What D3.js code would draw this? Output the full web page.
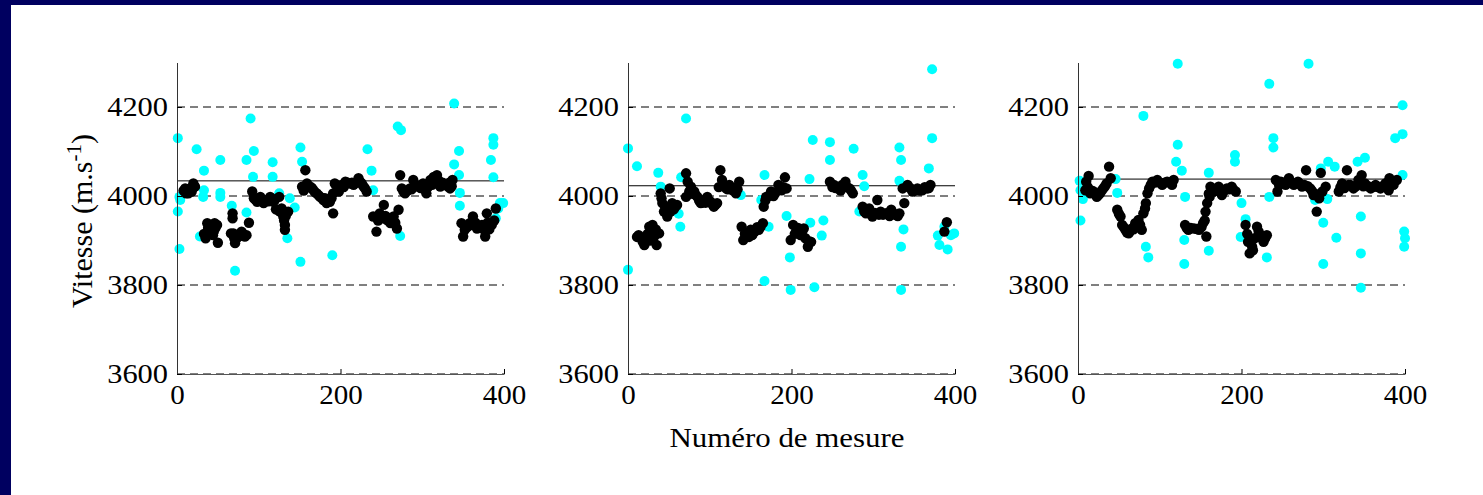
<!DOCTYPE html>
<html><head><meta charset="utf-8">
<script src="https://cdn.jsdelivr.net/npm/d3@7"></script>
<style>
html,body{margin:0;padding:0;background:#fff;}
svg{display:block;}
svg text{font-family:'Liberation Serif','Times New Roman',Times,serif !important;}
</style></head>
<body>
<svg id="c" width="1483" height="495"></svg>
<script>
const xTicks = [0, 200, 400];
const yTicks = [3600, 3800, 4000, 4200];
const gridLevels = [3600, 3800, 4000, 4200];
const means = [4034, 4023, 4038];
const xLabel = "Numéro de mesure";

const cyan1 = [[1,4130],[3,3998],[4,3991],[1,3965],[3,3881],[24,4105],[33,4057],[33,4013],[32,3998],[28,3909],
[53,4081],[53,4007],[53,3998],[67,3978],[85,4081],[90,4174],[94,4101],[93,4043],[85,3963],[71,3832],
[117,4076],[117,4043],[125,4006],[138,3995],[144,3974],[135,3905],[151,4109],[153,4077],[151,3852],[190,3867],
[233,4105],[238,4057],[240,4013],[270,4156],[274,4148],[273,3910],[339,4208],[345,4101],[339,4071],[345,4047],
[346,4007],[346,3978],[387,4130],[387,4115],[384,4081],[387,4042],[390,3950],[395,3984],[399,3984],[393,3972]];
const black1 = [[10,4017],[14,4006],[20,4028],[16,4017],[22,4021],[11,4006],[8,4012],[18,4010],[13,4015],[19,4018],
[37,3939],[35,3905],[41,3927],[45,3920],[49,3935],[50,3895],[39,3916],[46,3939],[43,3930],[33,3915],[38,3928],[44,3912],[47,3928],
[68,3961],[68,3950],[69,3916],[71,3894],[75,3909],[79,3920],[83,3909],[88,3940],[66,3916],[73,3905],[81,3915],[70,3905],[77,3915],[85,3912],
[92,4010],[94,3995],[98,3987],[102,3998],[106,3984],[110,3991],[114,3998],[118,3987],[125,3998],[100,3990],[108,3988],[96,3992],[104,3990],[112,3988],[116,3994],[120,3992],
[121,3970],[126,3965],[130,3954],[132,3935],[132,3924],[136,3965],[128,3972],[131,3945],[124,3968],[133,3955],
[153,4021],[157,4058],[159,4028],[163,4021],[167,4013],[171,4006],[175,3998],[179,3991],[183,3984],[187,3987],[191,3961],[193,4028],[198,4010],[191,4006],[155,4012],[165,4018],[173,4002],[181,3995],[161,4020],[169,4008],[177,3996],[185,3990],[189,3995],[196,4020],
[202,4025],[206,4032],[212,4028],[216,4025],[222,4040],[226,4028],[230,4017],[232,4010],[209,4030],[219,4030],[204,4020],[214,4030],[224,4032],[228,4022],
[240,3954],[244,3920],[248,3961],[253,3980],[257,3946],[261,3939],[265,3954],[269,3927],[271,3969],[251,3950],[263,3945],[246,3945],[255,3955],[259,3950],[267,3940],
[273,4047],[275,4017],[279,4006],[285,4017],[289,4036],[295,4021],[301,4028],[305,4006],[310,4036],[314,4043],[318,4047],[322,4021],[328,4025],[334,4017],[337,4036],[282,4012],[292,4025],[298,4018],[307,4020],[316,4030],[325,4030],[331,4022],[277,4010],[287,4015],[303,4020],[312,4025],[320,4035],[333,4030],[336,4022],
[350,3909],[348,3939],[352,3924],[358,3939],[362,3954],[367,3927],[373,3935],[377,3909],[379,3961],[385,3935],[390,3972],[355,3930],[370,3930],[382,3925],[360,3935],[365,3940],[375,3925],[380,3940],[388,3945]];

const cyan2 = [[0,4107],[0,3834],[11,4067],[37,4052],[40,4021],[65,4042],[62,3960],[64,3931],[71,4174],[138,4002],
[167,4047],[163,3991],[172,3931],[167,3809],[194,3955],[198,3862],[199,3789],[222,4038],[226,4126],[223,3940],
[228,3795],[237,3911],[239,3945],[247,4121],[247,4081],[276,4106],[287,4047],[289,4022],[283,3965],[332,4109],
[334,4081],[332,4034],[337,3925],[334,3886],[334,3789],[372,4285],[372,4130],[368,4062],[379,3911],[381,3890],
[391,3880],[395,3912],[399,3916],[387,3931]];
const black2 = [[13,3912],[18,3897],[22,3909],[26,3931],[28,3920],[32,3909],[35,3890],[38,3916],[20,3890],[30,3935],[16,3905],[24,3915],[11,3908],[34,3925],[27,3900],
[40,4006],[42,3984],[44,3965],[48,3954],[51,4017],[54,3984],[58,3976],[60,3980],[46,3975],[52,3965],[41,3995],[56,3970],
[71,4051],[73,4032],[71,3998],[77,4021],[81,4010],[85,3998],[89,3984],[93,3991],[97,3998],[101,3987],[105,3976],[109,3984],[75,4010],[83,4002],[95,3985],[79,4005],[87,3990],[91,3985],[99,3990],[103,3982],[107,3980],
[113,4058],[115,4036],[120,4017],[124,4025],[128,4013],[132,4006],[136,4032],[118,4025],[130,4018],[111,4020],[122,4015],[126,4018],[134,4015],
[139,3931],[141,3901],[146,3916],[150,3924],[155,3920],[160,3924],[165,3939],[143,3915],[152,3912],[158,3930],[148,3908],[162,3930],
[166,3976],[169,3998],[175,4010],[180,4006],[184,4025],[188,4013],[192,4042],[194,4017],[172,4000],[186,4015],[168,3990],[178,4000],[190,4020],
[199,3901],[202,3935],[206,3920],[211,3912],[215,3927],[220,3886],[224,3897],[208,3928],[217,3905],[213,3920],[204,3915],[222,3898],
[247,4032],[252,4025],[257,4017],[262,4025],[266,4032],[271,4017],[275,4006],[250,4020],[260,4012],[268,4020],[254,4018],[264,4020],[273,4012],
[287,3976],[291,3961],[295,3972],[299,3954],[305,3991],[309,3965],[315,3961],[322,3969],[328,3957],[332,3961],[302,3962],[312,3958],[318,3962],[325,3960],[289,3965],[297,3960],[307,3958],[320,3955],[330,3955],
[338,3984],[336,4017],[342,4025],[348,4010],[354,4017],[360,4013],[366,4017],[370,4025],[345,4018],[357,4012],[363,4020],[351,4012],[368,4018],
[387,3920],[390,3941]];

const cyan3 = [[2,4034],[3,4013],[6,3993],[3,3945],[46,4038],[48,4007],[80,4180],[83,3886],[86,3862],[122,4297],
[122,4115],[120,4077],[127,4057],[131,3998],[130,3901],[130,3847],[160,4052],[160,3877],[192,4092],[192,4077],
[200,3984],[205,3948],[199,3908],[231,3862],[234,4252],[239,4130],[239,4109],[234,3998],[282,4297],[297,4062],
[306,4077],[314,4066],[305,3993],[290,3991],[300,3940],[300,3847],[316,3906],[342,4077],[351,4086],[346,3954],
[346,3871],[346,3794],[388,4130],[397,4139],[397,4204],[397,4047],[399,3920],[400,3905],[399,3886]];
const black3 = [[10,4032],[13,4045],[9,4013],[15,4006],[19,4010],[23,3998],[27,4006],[31,4017],[35,4028],[38,4066],[40,4040],[12,4020],[25,4002],[17,4012],[21,4005],[29,4012],[33,4022],
[48,3969],[52,3954],[54,3935],[58,3924],[62,3916],[66,3927],[70,3939],[74,3946],[78,3924],[80,3961],[83,3984],[85,4006],[87,4017],[56,3930],[64,3922],[72,3930],[76,3935],[50,3960],[60,3918],[68,3925],[82,3972],
[91,4032],[97,4036],[103,4025],[109,4032],[115,4025],[117,4036],[94,4030],[100,4030],[106,4030],[112,4030],[89,4025],
[131,3935],[135,3924],[142,3927],[148,3924],[153,3939],[157,3909],[156,3965],[138,3928],[145,3926],[151,3930],[133,3928],[155,3945],
[158,3984],[161,3998],[162,4021],[166,4010],[172,4021],[176,4002],[182,4017],[188,4021],[193,4010],[169,4015],[179,4012],[185,4015],[160,4005],[190,4015],
[205,3935],[208,3897],[210,3871],[213,3886],[219,3931],[223,3912],[227,3897],[231,3912],[216,3905],[212,3900],[221,3920],[225,3905],[207,3915],[214,3878],[229,3905],
[242,4036],[244,4010],[248,4032],[254,4025],[258,4040],[264,4025],[269,4032],[274,4021],[279,4058],[284,4017],[288,4002],[292,3965],[297,4052],[295,3995],[303,4021],[251,4030],[261,4030],[271,4028],[246,4025],[256,4030],[266,4028],[277,4025],[281,4022],[286,4012],[290,4005],[299,4010],
[319,4010],[323,4028],[329,4058],[333,4025],[337,4017],[343,4036],[347,4047],[351,4028],[358,4017],[364,4025],[370,4017],[376,4028],[381,4040],[386,4025],[390,4036],[380,4013],[326,4018],[340,4022],[355,4022],[367,4020],[373,4022],[321,4020],[331,4025],[345,4030],[349,4022],[361,4020],[384,4030]];

const panels = [
  {cyan: cyan1, black: black1, mean: means[0], left: 177},
  {cyan: cyan2, black: black2, mean: means[1], left: 628},
  {cyan: cyan3, black: black3, mean: means[2], left: 1078}
];

const SERIF = "'Liberation Serif', 'Times New Roman', Times, serif";
const svg = d3.select("#c");
svg.append("rect").attr("x",0).attr("y",0).attr("width",1483).attr("height",495).attr("fill","#000060");
svg.append("rect").attr("x",11).attr("y",5).attr("width",1483-11).attr("height",495-5).attr("fill","#fff");

const W = 327, plotTop = 62.5, plotBottom = 374;
const FS = 28;
const y = d3.scaleLinear().domain([3600, 4300]).range([plotBottom, plotTop]);
const fmt = d3.format("d");

panels.forEach((p, i) => {
  const x = d3.scaleLinear().domain([0, 400]).range([p.left, p.left + W]);
  const g = svg.append("g");
  g.selectAll("line.grid").data(gridLevels).enter().append("line")
    .attr("x1", x(0)).attr("x2", x(400)).attr("y1", d => y(d)).attr("y2", d => y(d))
    .attr("stroke", "#000").attr("stroke-width", 1).attr("stroke-dasharray", "8,5");
  g.append("line").attr("x1", x(0)).attr("x2", x(400)).attr("y1", y(p.mean)).attr("y2", y(p.mean))
    .attr("stroke", "#000").attr("stroke-width", 1);
  g.selectAll("circle.c").data(p.cyan).enter().append("circle")
    .attr("cx", d => x(d[0])).attr("cy", d => y(d[1])).attr("r", 5).attr("fill", "#00ffff");
  g.selectAll("circle.b").data(p.black).enter().append("circle")
    .attr("cx", d => x(d[0])).attr("cy", d => y(d[1])).attr("r", 5.2).attr("fill", "#000");
  const ax = d3.axisBottom(x).tickValues(xTicks).tickFormat(fmt).tickSize(-5).tickSizeOuter(0).tickPadding(10);
  const gx = svg.append("g").attr("transform", `translate(0,${plotBottom})`).call(ax)
    .attr("font-family", SERIF).attr("font-size", FS);
  gx.select(".domain").attr("stroke", "#555");
  gx.selectAll("text").attr("fill", "#000")
    .attr("textLength", d => fmt(d).length * 14.5).attr("lengthAdjust", "spacingAndGlyphs");
  const ay = d3.axisLeft(y).tickValues(yTicks).tickFormat(fmt).tickSize(-5).tickSizeOuter(0).tickPadding(9);
  const gy = svg.append("g").attr("transform", `translate(${p.left},0)`).call(ay)
    .attr("font-family", SERIF).attr("font-size", FS);
  gy.select(".domain").attr("stroke", "#333");
  gy.selectAll("text").attr("fill", "#000")
    .attr("textLength", d => fmt(d).length * 15.2).attr("lengthAdjust", "spacingAndGlyphs");
});

const yl = svg.append("text").attr("transform", "translate(92,221) rotate(-90)")
  .attr("text-anchor", "middle").attr("font-family", SERIF).attr("font-size", 30).attr("fill", "#000");
yl.append("tspan").text("Vitesse (m.s");
yl.append("tspan").attr("font-size", 21).attr("dy", -11).text("-1");
yl.append("tspan").attr("dy", 11).text(")");

svg.append("text").attr("x", 787).attr("y", 447).attr("text-anchor", "middle")
  .attr("font-family", SERIF).attr("font-size", FS).attr("fill", "#000")
  .attr("textLength", 235).attr("lengthAdjust", "spacingAndGlyphs").text(xLabel);
</script>
</body></html>
